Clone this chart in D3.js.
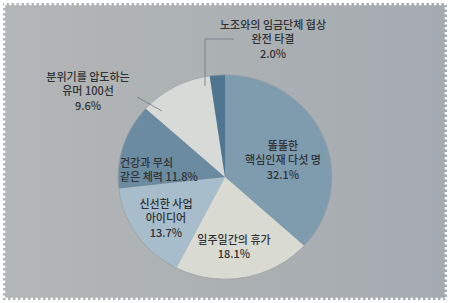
<!DOCTYPE html>
<html>
<head>
<meta charset="utf-8">
<script src="https://cdn.jsdelivr.net/npm/d3@7"></script>
<style>
  body { margin: 0; background: #fff; }
  svg { display: block; }
  text { font-family: "Noto Sans CJK KR", "Noto Sans", sans-serif; font-weight: 500; fill: #303234; }
</style>
</head>
<body>
<div id="chart"></div>
<script>
// Slices, clockwise from 12 o'clock
const labels = [
    ["똘똘한", "핵심인재 다섯 명", "32.1%"],
    ["일주일간의 휴가", "18.1%"],
    ["신선한 사업", "아이디어", "13.7%"],
    ["건강과 무쇠", "같은 체력 11.8%"],
    ["분위기를 압도하는", "유머 100선", "9.6%"],
    ["노조와의 임금단체 협상", "완전 타결", "2.0%"]
];
const values = [32.1, 18.1, 13.7, 11.8, 9.6, 2.0];
const colors = ["#7f9bae", "#d9dad1", "#a7bdcb", "#6b8ba1", "#d8dad7", "#4f7690"];

const W = 450, H = 303;
const cx = 225, cy = 177, radius = 107;

const svg = d3.select("#chart")
    .append("svg")
    .attr("width", W)
    .attr("height", H);

// Paper background with a slight left-to-right tint
const defs = svg.append("defs");
const grad = defs.append("linearGradient")
    .attr("id", "paper")
    .attr("x1", "0%").attr("y1", "0%")
    .attr("x2", "100%").attr("y2", "0%");
grad.append("stop").attr("offset", "0%").attr("stop-color", "#b3b6b6");
grad.append("stop").attr("offset", "100%").attr("stop-color", "#a4abb0");

svg.append("rect")
    .attr("x", 3).attr("y", 3)
    .attr("width", W - 6).attr("height", H - 6)
    .attr("fill", "url(#paper)");

// Stamp-like zigzag edge
svg.append("rect")
    .attr("x", 4).attr("y", 4)
    .attr("width", W - 8).attr("height", H - 8)
    .attr("fill", "none")
    .attr("stroke", "#fff")
    .attr("stroke-width", 2.5)
    .attr("stroke-dasharray", "2.5,2.5");

// Pie
const pie = d3.pie().sort(null).value(d => d);
const arc = d3.arc().innerRadius(0).outerRadius(radius);

const g = svg.append("g")
    .attr("transform", `translate(${cx},${cy}) scale(1,0.955)`);

g.selectAll("path")
    .data(pie(values))
    .join("path")
    .attr("d", arc)
    .attr("fill", (d, i) => colors[i]);

g.append("circle")
    .attr("r", radius)
    .attr("fill", "none")
    .attr("stroke", "#98a2a8")
    .attr("stroke-width", 0.8);

// Leader lines
svg.append("polyline")
    .attr("points", "234,39 205,39 205,86")
    .attr("fill", "none")
    .attr("stroke", "#6f7a82")
    .attr("stroke-width", 0.8);

svg.append("line")
    .attr("x1", 137).attr("y1", 97)
    .attr("x2", 162).attr("y2", 111)
    .attr("stroke", "#6f7a82")
    .attr("stroke-width", 0.8);

// Label positions: [x, y of first line, anchor]
const labelPos = [
    [283, 150, "middle"],
    [234, 244, "middle"],
    [166, 208, "middle"],
    [120, 167, "start"],
    [88, 81, "middle"],
    [273, 29, "middle"]
];
const lineH = 14.3;

labels.forEach((lines, i) => {
    const [x, y, anchor] = labelPos[i];
    lines.forEach((s, j) => {
        svg.append("text")
            .attr("x", x)
            .attr("y", y + j * lineH)
            .attr("text-anchor", anchor)
            .attr("font-size", 11)
            .text(s);
    });
});
</script>
</body>
</html>
